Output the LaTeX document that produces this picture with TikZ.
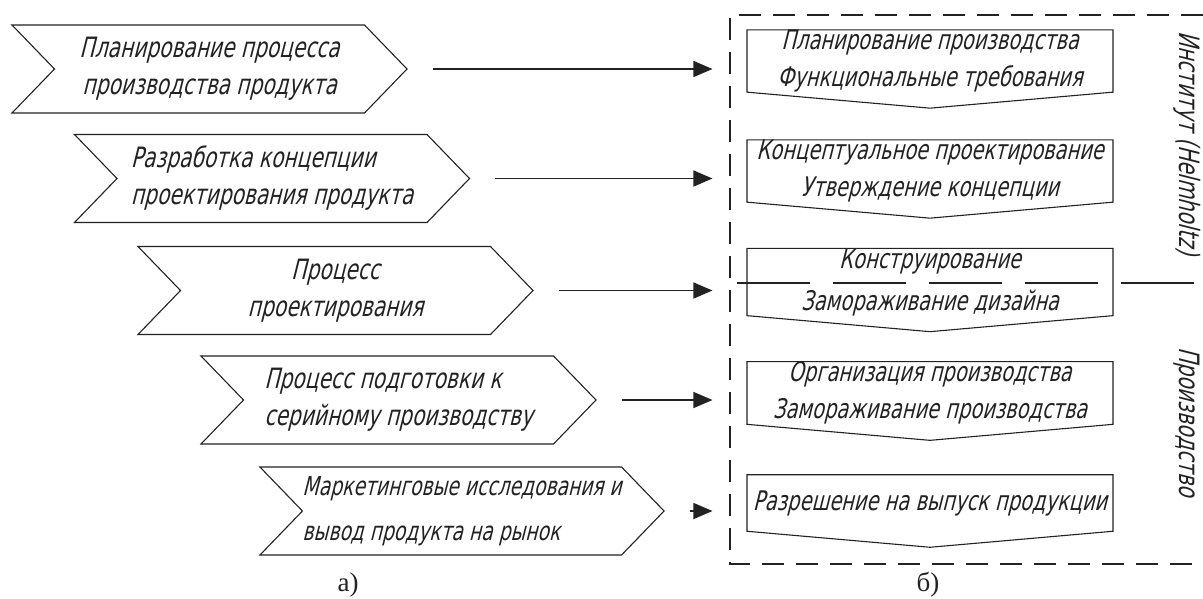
\documentclass[tikz,border=0pt]{standalone}
\usepackage{fontspec}
\setmainfont{Liberation Serif}
\newfontfamily\gostfont[FakeSlant=0.25,FakeStretch=0.72]{DejaVu Sans}
\usetikzlibrary{arrows.meta,shapes.symbols}
\definecolor{ink}{HTML}{222222}
\tikzset{
  stage/.style  ={shape=signal,signal to=east,signal from=west,signal pointer angle=92,
                  draw=ink,line width=1.1pt,minimum width=395pt,minimum height=88pt,
                  inner sep=0pt,font=\gostfont\fontsize{28}{37}\selectfont,text=ink},
  gate/.style   ={shape=signal,signal to=south,signal pointer angle=170,
                  draw=ink,line width=1.1pt,minimum width=366pt,minimum height=72pt,
                  inner sep=0pt,align=center,font=\gostfont\fontsize{27}{37}\selectfont,text=ink},
  zone/.style   ={draw=ink,line width=1.1pt,dash pattern=on 22pt off 12pt},
  divider/.style={draw=ink,line width=1.1pt,dash pattern=on 73pt off 23pt},
  flow/.style   ={-{Triangle[length=19pt,width=16pt]},line width=1.3pt,draw=ink,
                  shorten <=25pt,shorten >=34pt},
  side/.style   ={rotate=-90,font=\gostfont\fontsize{28}{30}\selectfont,text=ink},
  caption/.style={font=\fontsize{27}{30}\selectfont,text=ink}
}
\begin{document}
\begin{tikzpicture}[x=1pt,y=-1pt]
  \useasboundingbox (0,0) rectangle (1203,598);
  % a) stages of the product process
  \node[stage,align=center] (c1) at (209.5,69) {Планирование процесса\\производства продукта};
  \node[stage,align=left] (c2) at (272,178.5) {Разработка концепции\\проектирования продукта};
  \node[stage,align=center] (c3) at (335.5,290.5) {Процесс\\проектирования};
  \node[stage,align=left] (c4) at (398.5,400) {Процесс подготовки к\\серийному производству};
  \node[stage,align=left,font=\gostfont\fontsize{26}{45}\selectfont] (c5) at (462,511)
    {Маркетинговые исследования и\\вывод продукта на рынок};
  % b) gates
  \node[gate] (b1) at (930,61) {Планирование производства\\Функциональные требования};
  \node[gate] (b2) at (930,171) {Концептуальное проектирование\\Утверждение концепции};
  \node[gate,font=\gostfont\fontsize{27}{42}\selectfont] (b3) at (930,282)
    {Конструирование\\Замораживание дизайна};
  \node[gate] (b4) at (930,393) {Организация производства\\Замораживание производства};
  \node[gate] (b5) at (930,503) {Разрешение на выпуск продукции};
  \draw[zone] (1203,15) -| (730,564) -- (1203,564);
  \draw[divider] (737,283) -- (1203,283);
  \node[side] (inst) at (1187,143) {Институт (Helmholtz)};
  \node[side] (prod) at (1187,422) {Производство};
  \foreach \i in {1,...,5}
    \draw[flow] (c\i.east) -- (c\i.east -| b\i.west);
  \node[caption] (capa) at (348,585) {а)};
  \node[caption] (capb) at (928,585) {б)};
\end{tikzpicture}
\end{document}
